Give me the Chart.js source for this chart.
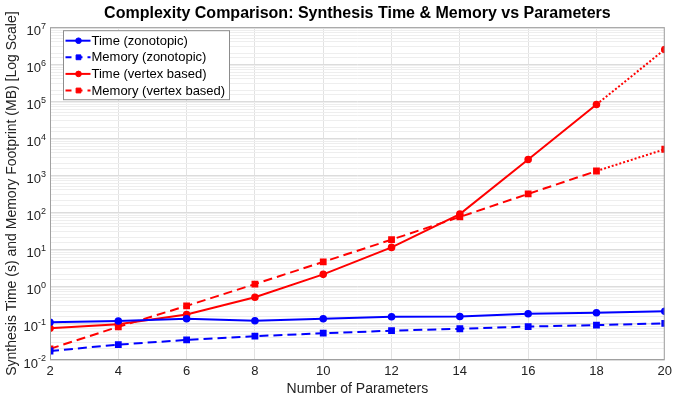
<!DOCTYPE html>
<html>
<head>
<meta charset="utf-8">
<script src="https://cdn.jsdelivr.net/npm/chart.js@4.4.1/dist/chart.umd.min.js"></script>
<style>
  html, body { margin: 0; padding: 0; background: #fff; }
</style>
</head>
<body>
<canvas id="chart" width="676" height="405"></canvas>
<script>
"use strict"

// values (log scale)
const params = [2, 4, 6, 8, 10, 12, 14, 16, 18, 20];
const timeZono = [0.105, 0.113, 0.13, 0.115, 0.13, 0.148, 0.15, 0.178, 0.19, 0.207];
const memZono = [0.0175, 0.026, 0.035, 0.044, 0.053, 0.062, 0.07, 0.08, 0.088, 0.098];
const timeVertex = [0.072, 0.092, 0.17, 0.5, 2.07, 11.1, 88, 2650, 81000, 2.5e6];
const memVertex = [0.02, 0.079, 0.29, 1.13, 4.5, 18, 74, 310, 1290, 5000];
const yTickExps = [-2, -1, 0, 1, 2, 3, 4, 5, 6, 7];

const FONT = '"Liberation Sans", Arial, Helvetica, sans-serif';
const AXIS_COLOR = '#a0a0a0';
Chart.defaults.font.family = FONT;

function pts(ys) {
  return params.map((x, i) => ({ x: x, y: ys[i] }));
}

// last segment (18 -> 20) of the vertex based series is dotted
const lastDotted = ctx => ctx.p1DataIndex === params.length - 1 ? [2, 2] : undefined;

function isDecade(v) {
  const l = Math.log10(v);
  return Math.abs(l - Math.round(l)) < 1e-9;
}

// MATLAB style legend in the upper left corner of the axes
const legendBox = {
  id: 'legendBox',
  afterDraw(chart) {
    const ctx = chart.ctx;
    const a = chart.chartArea;
    const x0 = a.left + 13.5, y0 = a.top + 3.5, w = 166, h = 69, rowH = 16.6;
    ctx.save();
    ctx.fillStyle = '#fff';
    ctx.fillRect(x0, y0, w, h);
    ctx.strokeStyle = '#8c8c8c';
    ctx.lineWidth = 1;
    ctx.strokeRect(x0, y0, w, h);
    chart.data.datasets.forEach((ds, i) => {
      const cy = y0 + 10 + i * rowH;
      ctx.strokeStyle = ds.borderColor;
      ctx.lineWidth = ds.borderWidth;
      ctx.setLineDash(ds.borderDash ? [6, 5] : []);
      ctx.beginPath();
      ctx.moveTo(x0 + 2, cy);
      ctx.lineTo(x0 + 27, cy);
      ctx.stroke();
      ctx.setLineDash([]);
      ctx.fillStyle = ds.backgroundColor;
      ctx.lineWidth = 1;
      Chart.helpers.drawPoint(ctx, {
        pointStyle: ds.pointStyle,
        radius: ds.pointRadius,
        borderWidth: 1
      }, x0 + 15, cy);
      ctx.fillStyle = '#000';
      ctx.font = '13px ' + FONT;
      ctx.textAlign = 'left';
      ctx.textBaseline = 'middle';
      ctx.fillText(ds.label, x0 + 28, cy + 0.5);
    });
    ctx.restore();
  }
};

// axes box and 10^n tick labels
const axesDecor = {
  id: 'axesDecor',
  afterDatasetsDraw(chart) {
    const ctx = chart.ctx;
    const a = chart.chartArea;
    const ys = chart.scales.y;
    ctx.save();
    ctx.strokeStyle = AXIS_COLOR;
    ctx.lineWidth = 1;
    ctx.strokeRect(a.left + 0.5, a.top + 0.5, a.right - a.left - 1, a.bottom - a.top - 1);
    ctx.fillStyle = '#222';
    ctx.textAlign = 'right';
    ctx.textBaseline = 'middle';
    const right = a.left - 4;
    yTickExps.forEach(e => {
      const py = ys.getPixelForValue(Math.pow(10, e));
      const sup = String(e);
      ctx.font = '9px ' + FONT;
      const supW = ctx.measureText(sup).width;
      ctx.fillText(sup, right, py - 1);
      ctx.font = '13px ' + FONT;
      ctx.fillText('10', right - supW, py + 4);
    });
    ctx.restore();
  }
};

new Chart(document.getElementById('chart'), {
  type: 'line',
  data: {
    datasets: [
      {
        label: 'Time (zonotopic)',
        data: pts(timeZono),
        borderColor: '#0000ff',
        backgroundColor: '#0000ff',
        borderWidth: 2,
        pointStyle: 'circle',
        pointRadius: 2.8
      },
      {
        label: 'Memory (zonotopic)',
        data: pts(memZono),
        borderColor: '#0000ff',
        backgroundColor: '#0000ff',
        borderWidth: 2,
        borderDash: [9, 5],
        pointStyle: 'rect',
        pointRadius: 3.4
      },
      {
        label: 'Time (vertex based)',
        data: pts(timeVertex),
        borderColor: '#ff0000',
        backgroundColor: '#ff0000',
        borderWidth: 2,
        pointStyle: 'circle',
        pointRadius: 2.8,
        segment: { borderDash: lastDotted }
      },
      {
        label: 'Memory (vertex based)',
        data: pts(memVertex),
        borderColor: '#ff0000',
        backgroundColor: '#ff0000',
        borderWidth: 2,
        borderDash: [9, 5],
        pointStyle: 'rect',
        pointRadius: 3.4,
        segment: { borderDash: lastDotted }
      }
    ]
  },
  options: {
    responsive: false,
    animation: false,
    layout: { padding: { left: 0, right: 6, top: 0, bottom: 0 } },
    elements: {
      line: { tension: 0 },
      point: { borderWidth: 1, hoverRadius: 3 }
    },
    plugins: {
      legend: { display: false },
      tooltip: { enabled: false },
      title: {
        display: true,
        fullSize: false,
        text: 'Complexity Comparison: Synthesis Time & Memory vs Parameters',
        color: '#000',
        font: { size: 16, weight: 'bold' },
        padding: { top: 4, bottom: 4 }
      }
    },
    scales: {
      x: {
        type: 'linear',
        min: 2,
        max: 20,
        ticks: { stepSize: 2, color: '#222', font: { size: 13 }, padding: 4 },
        grid: { color: '#e2e2e2', drawTicks: false },
        border: { display: false },
        title: {
          display: true,
          text: 'Number of Parameters',
          color: '#222',
          font: { size: 14 },
          padding: { top: 0, bottom: 7 }
        },
        afterFit: s => { s.height = 45; }
      },
      y: {
        type: 'logarithmic',
        min: 0.01,
        max: 1e7,
        ticks: { display: false, autoSkip: false },
        grid: {
          color: c => isDecade(c.tick.value) ? '#dcdcdc' : '#eeeeee',
          drawTicks: false
        },
        border: { display: false },
        title: {
          display: true,
          text: 'Synthesis Time (s) and Memory Footprint (MB) [Log Scale]',
          color: '#222',
          font: { size: 14 },
          padding: { top: 3.5, bottom: 0 }
        },
        afterFit: s => { s.width = 50; }
      }
    }
  },
  plugins: [axesDecor, legendBox]
});
</script>
</body>
</html>
